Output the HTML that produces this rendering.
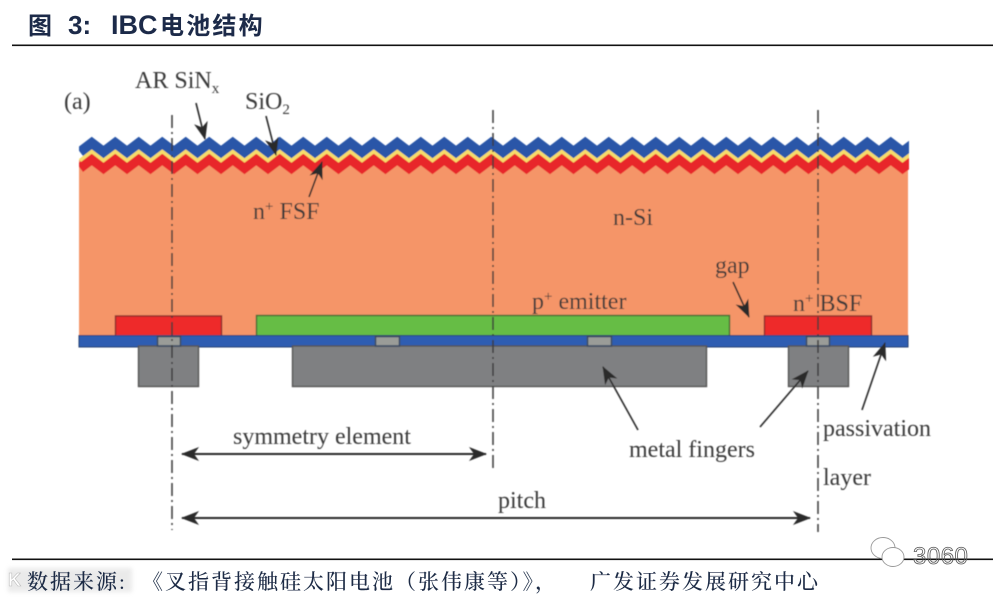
<!DOCTYPE html>
<html lang="zh">
<head>
<meta charset="utf-8">
<title>IBC</title>
<style>
html,body{margin:0;padding:0;background:#fff;width:1000px;height:597px;overflow:hidden}
svg{display:block}
.s{font-family:"Liberation Serif","Noto Serif CJK SC",serif;fill:#3a3a3a;font-size:24px}
.c{font-family:"Liberation Sans","Noto Sans CJK SC",sans-serif;font-weight:700;fill:#1c2c48;font-size:24px}
.f{font-family:"Liberation Serif","Noto Serif CJK SC",serif;fill:#1a2a44;font-size:21px;font-weight:500;font-kerning:none;font-feature-settings:"chws" 0,"palt" 0,"kern" 0}
</style>
</head>
<body>
<svg width="1000" height="597" viewBox="0 0 1000 597" xmlns="http://www.w3.org/2000/svg">
<defs>
<clipPath id="cl"><rect x="79" y="120" width="830" height="70"/></clipPath>
<path id="z" fill="none" stroke-linejoin="miter" d="M80 9l11.75-9 11.75 9 11.75-9 11.75 9 11.75-9 11.75 9 11.75-9 11.75 9 11.75-9 11.75 9 11.75-9 11.75 9 11.75-9 11.75 9 11.75-9 11.75 9 11.75-9 11.75 9 11.75-9 11.75 9 11.75-9 11.75 9 11.75-9 11.75 9 11.75-9 11.75 9 11.75-9 11.75 9 11.75-9 11.75 9 11.75-9 11.75 9 11.75-9 11.75 9 11.75-9 11.75 9 11.75-9 11.75 9 11.75-9 11.75 9 11.75-9 11.75 9 11.75-9 11.75 9 11.75-9 11.75 9 11.75-9 11.75 9 11.75-9 11.75 9 11.75-9 11.75 9 11.75-9 11.75 9 11.75-9 11.75 9 11.75-9 11.75 9 11.75-9 11.75 9 11.75-9 11.75 9 11.75-9 11.75 9 11.75-9 11.75 9 11.75-9 11.75 9 11.75-9 11.75 9 11.75-9 11.75 9 11.75-9 11.75 9"/>
<marker id="a" viewBox="0 0 18 14" refX="17" refY="7" markerWidth="18" markerHeight="14" markerUnits="userSpaceOnUse" orient="auto-start-reverse"><path d="M0 0L18 7L0 14L5 7Z" fill="#2b2b2b"/></marker>
<filter id="b" x="-5%" y="-5%" width="110%" height="110%"><feGaussianBlur stdDeviation="0.6"/></filter>
<filter id="t" x="-5%" y="-20%" width="110%" height="140%"><feGaussianBlur stdDeviation="0.35"/></filter>
<filter id="w" x="-20%" y="-50%" width="140%" height="200%"><feGaussianBlur stdDeviation="2"/></filter>
</defs>

<g filter="url(#t)">
<text class="c" x="28" y="34">图</text>
<text class="c" x="68" y="34" style="font-size:26px">3:</text>
<text class="c" x="111" y="34" style="font-size:27px">IBC</text>
<text class="c" x="160" y="34" letter-spacing="2.2">电池结构</text>
</g>
<rect x="12" y="44.5" width="981" height="1.6" fill="#111"/>

<g filter="url(#b)">
<rect x="79" y="160" width="829" height="177" fill="#F59568"/>
<g clip-path="url(#cl)">
<use href="#z" y="159" stroke="#E8262A" stroke-width="10"/>
<use href="#z" y="151.5" stroke="#F6DC6A" stroke-width="3.6"/>
<use href="#z" y="143" stroke="#2B56A8" stroke-width="10"/>
</g>

<rect x="115.5" y="316" width="106" height="20" fill="#EE2B2B" stroke="#8a2a2a" stroke-width="1.4"/>
<rect x="764.5" y="316" width="107" height="20" fill="#EE2B2B" stroke="#8a2a2a" stroke-width="1.4"/>
<rect x="256.5" y="315.5" width="473" height="20.5" fill="#66BD45" stroke="#3f6b35" stroke-width="1.4"/>

<rect x="79" y="335.5" width="829" height="11.5" fill="#2F5DB2" stroke="#27406f" stroke-width="1"/>
<rect x="138.5" y="346" width="60" height="40.5" fill="#7f8082" stroke="#555" stroke-width="1.4"/>
<rect x="292.5" y="346" width="414" height="40.5" fill="#7f8082" stroke="#555" stroke-width="1.4"/>
<rect x="788.5" y="346" width="60" height="40.5" fill="#7f8082" stroke="#555" stroke-width="1.4"/>
<g fill="#9a9c98" stroke="#3c4c63" stroke-width="1.6">
<rect x="157.5" y="336.5" width="23" height="9.5"/>
<rect x="375.5" y="336.5" width="24" height="9.5"/>
<rect x="587.5" y="336.5" width="24" height="9.5"/>
<rect x="806.5" y="336.5" width="23" height="9.5"/>
</g>

<g stroke="#3a3a3a" stroke-width="1.5" fill="none" stroke-dasharray="13 4 2 4">
<line x1="172" y1="115" x2="172" y2="530"/>
<line x1="493" y1="110" x2="493" y2="472"/>
<line x1="818" y1="110" x2="818" y2="532"/>
</g>

<g stroke="#2b2b2b" stroke-width="1.6" fill="none">
<line x1="196" y1="103" x2="205" y2="139" marker-end="url(#a)"/>
<line x1="266" y1="116" x2="276" y2="155" marker-end="url(#a)"/>
<line x1="309" y1="197" x2="322" y2="162" marker-end="url(#a)"/>
<line x1="733" y1="282" x2="749" y2="317" marker-end="url(#a)"/>
<line x1="862" y1="410" x2="885" y2="343" marker-end="url(#a)"/>
<line x1="638" y1="430" x2="603" y2="367" marker-end="url(#a)"/>
<line x1="760" y1="427" x2="808" y2="371" marker-end="url(#a)"/>
<line x1="182" y1="454" x2="486" y2="454" stroke-width="2" marker-start="url(#a)" marker-end="url(#a)"/>
<line x1="182" y1="518" x2="810" y2="518" stroke-width="2" marker-start="url(#a)" marker-end="url(#a)"/>
</g>

<text class="s" x="64" y="109">(a)</text>
<text class="s" x="135" y="88">AR SiN<tspan font-size="15" dy="5">x</tspan></text>
<text class="s" x="245" y="109">SiO<tspan font-size="15" dy="5">2</tspan></text>
<text class="s" x="253" y="219">n<tspan font-size="15" dy="-8">+</tspan><tspan dy="8"> FSF</tspan></text>
<text class="s" x="613" y="225">n-Si</text>
<text class="s" x="715" y="273">gap</text>
<text class="s" x="532" y="309">p<tspan font-size="15" dy="-8">+</tspan><tspan dy="8"> emitter</tspan></text>
<text class="s" x="793" y="311">n<tspan font-size="15" dy="-8">+</tspan><tspan dy="8"> BSF</tspan></text>
<text class="s" x="233" y="444">symmetry element</text>
<text class="s" x="629" y="457">metal fingers</text>
<text class="s" x="823" y="436">passivation</text>
<text class="s" x="823" y="485">layer</text>
<text class="s" x="498" y="508">pitch</text>
</g>

<rect x="12" y="558.5" width="981" height="1.6" fill="#111"/>

<rect x="8" y="568" width="124" height="24" fill="#ddd" opacity="0.6" filter="url(#w)"/>
<text x="8" y="586" font-family="Liberation Sans,sans-serif" font-size="18" font-weight="700" fill="#fff" stroke="#bbb" stroke-width="0.6">K</text>
<g filter="url(#t)">
<text class="f" x="27" y="589" letter-spacing="2">数据来源:</text>
<text class="f" x="142" y="589" letter-spacing="2">《叉指背接触硅太阳电池（张伟康等）》，</text>
<text class="f" x="590" y="589" letter-spacing="2">广发证券发展研究中心</text>
</g>

<g fill="#fff" stroke="#999" stroke-width="0.9">
<ellipse cx="883" cy="548" rx="12" ry="10.5"/>
<ellipse cx="893" cy="557" rx="11" ry="9.5"/>
</g>
<text x="913" y="564" font-family="Liberation Sans,sans-serif" font-size="24" fill="none" stroke="#555" stroke-width="0.8" letter-spacing="0.5">3060</text>
</svg>
</body>
</html>
